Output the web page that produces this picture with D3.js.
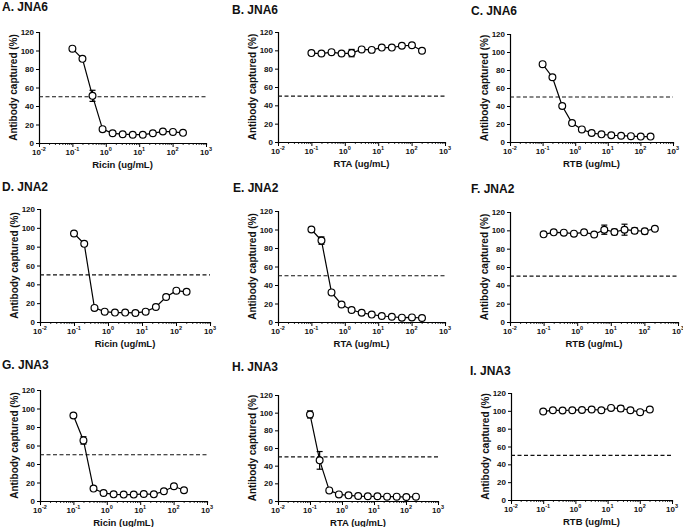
<!DOCTYPE html>
<html><head><meta charset="utf-8">
<script src="https://cdn.jsdelivr.net/npm/d3@7"></script>
<style>body{margin:0;background:#fff}svg{display:block}text{font-family:"Liberation Sans",Arial,sans-serif;font-weight:bold;fill:#111}</style>
</head><body><svg id="c" width="683" height="527"></svg>
<script>
// Concentrations (ug/mL), two-fold dilutions
const conc = [0.1,0.2,0.4,0.8,1.6,3.2,6.4,12.8,25.6,51.2,102.4,204.8];
const yTicks = [0,20,40,60,80,100,120];
const xTickExps = [-2,-1,0,1,2,3];
const titles = ["A. JNA6","B. JNA6","C. JNA6","D. JNA2","E. JNA2","F. JNA2","G. JNA3","H. JNA3","I. JNA3"];
const xLabels = ["Ricin (ug/mL)","RTA (ug/mL)","RTB (ug/mL)","Ricin (ug/mL)","RTA (ug/mL)","RTB (ug/mL)","Ricin (ug/mL)","RTA (ug/mL)","RTB (ug/mL)"];
const yLabel = "Antibody captured (%)";
const threshold = 50;
// Antibody captured (%) per panel
const valA = [102,91,51,15,10.5,9.5,9,9,10.5,12.5,12,11];
const valB = [97,96.5,98,96.5,97,101,100.5,103,103,105,105.5,99.5];
const valC = [86.5,72,40,21,14,10,8.5,7.5,7,6.5,6,6];
const valD = [94,83,15,11,10,10,9.6,11,16,26.5,33.3,32];
const valE = [100,88,32,19,13,10,8,6.5,5.7,4.7,5,4.3];
const valF = [95.6,97.8,97.5,96.4,97.8,95.5,100.7,98.2,100.7,99.6,99,101.8];
const valG = [92.5,65.5,13.4,8.7,7.2,6.9,6.9,7.6,7.2,10.5,15.9,11.6];
const valH = [98,46,12,7.5,6.4,5.6,5.3,5.3,4.9,4.9,4.5,4.9];
const valI = [99.2,100.7,100.4,100.7,101,101.5,100.7,103.3,102.6,100.7,98.5,101.5];
// error bars (SD)
const errA = [0,0,6,0,0,0,0,0,0,0,0,0];
const errB = [0,0,0,0,4,0,0,0,0,0,0,0];
const errC = [0,0,0,0,0,0,0,0,0,0,0,0];
const errD = [0,0,0,0,0,0,0,0,0,0,0,0];
const errE = [0,4,0,0,0,0,0,0,0,0,0,0];
const errF = [0,0,0,0,0,0,5,3,6,3,3,0];
const errG = [0,4,0,0,0,0,0,0,0,2,0,0];
const errH = [4,10,0,0,0,0,0,0,0,0,0,0];
const errI = [0,0,0,0,0,0,0,0,3,0,0,0];
const values = [valA,valB,valC,valD,valE,valF,valG,valH,valI];
const errors = [errA,errB,errC,errD,errE,errF,errG,errH,errI];

// layout: plot box per panel [left, right, top(120), bottom(0)], title position
const layout = [
  {l:39,r:206,t:32,b:143,tx:2,ty:11},
  {l:278,r:445,t:32,b:142,tx:232,ty:14},
  {l:510,r:673,t:34,b:142,tx:471,ty:15},
  {l:40,r:210,t:209,b:322,tx:2,ty:191},
  {l:278,r:445,t:211,b:322,tx:233,ty:192},
  {l:510,r:678,t:212,b:322,tx:471,ty:193},
  {l:40,r:207,t:390,b:501,tx:2,ty:369},
  {l:278,r:438,t:395,b:501,tx:232,ty:371},
  {l:511,r:672,t:393,b:500,tx:470,ty:375}
];

const svg = d3.select("#c");
layout.forEach((L,i)=>{
  const g = svg.append("g");
  const x = d3.scaleLog().domain([1e-2,1e3]).range([L.l,L.r]);
  const y = d3.scaleLinear().domain([0,120]).range([L.b,L.t]);
  // title
  g.append("text").attr("x",L.tx).attr("y",L.ty).attr("font-size",12).text(titles[i]);
  // y axis
  const ya = g.append("g").attr("transform",`translate(${L.l},0)`)
    .call(d3.axisLeft(y).tickValues(yTicks).tickSize(3).tickPadding(2));
  ya.select(".domain").attr("stroke","#000").attr("stroke-width",1.2);
  ya.selectAll(".tick line").attr("stroke","#000").attr("stroke-width",1);
  ya.selectAll(".tick text").attr("font-size",8).attr("font-family",'"Liberation Sans",Arial,sans-serif').attr("font-weight","bold").attr("fill","#111");
  // x axis minor ticks
  const minor = [];
  for(let e=-2;e<3;e++) for(let k=2;k<=9;k++) minor.push(k*Math.pow(10,e));
  const xa = g.append("g").attr("transform",`translate(0,${L.b})`)
    .call(d3.axisBottom(x).tickValues(minor).tickSize(2).tickFormat(""));
  xa.select(".domain").attr("stroke","#000").attr("stroke-width",1.2);
  xa.selectAll(".tick line").attr("stroke","#000").attr("stroke-width",0.8);
  const xm = g.append("g").attr("transform",`translate(0,${L.b})`)
    .call(d3.axisBottom(x).tickValues(xTickExps.map(e=>Math.pow(10,e))).tickSize(4).tickFormat(""));
  xm.select(".domain").remove();
  xm.selectAll(".tick line").attr("stroke","#000").attr("stroke-width",1);
  // x tick labels with superscript
  xTickExps.forEach(e=>{
    const t = g.append("text").attr("x",x(Math.pow(10,e))).attr("y",L.b+11.5).attr("text-anchor","middle").attr("font-size",8);
    t.append("tspan").text("10");
    t.append("tspan").attr("dy",-3.5).attr("font-size",5.5).text(e);
  });
  // axis labels
  g.append("text").attr("x",(L.l+L.r)/2).attr("y",L.b+24.5).attr("text-anchor","middle").attr("font-size",9.5).text(xLabels[i]);
  g.append("text").attr("transform",`translate(${L.l-22},${(L.t+L.b)/2}) rotate(-90)`).attr("text-anchor","middle").attr("font-size",10).text(yLabel);
  // threshold dashed line
  g.append("line").attr("x1",L.l).attr("x2",L.r).attr("y1",y(threshold)).attr("y2",y(threshold))
    .attr("stroke","#111").attr("stroke-width",1.1).attr("stroke-dasharray","4,2.5");
  const pts = conc.map((c,j)=>({c,v:values[i][j],e:errors[i][j]}));
  // line
  g.append("path").datum(pts).attr("fill","none").attr("stroke","#000").attr("stroke-width",1.2)
    .attr("d",d3.line().x(d=>x(d.c)).y(d=>y(d.v)));
  // error bars
  const eb = g.selectAll(".eb").data(pts.filter(d=>d.e>0)).enter().append("g");
  eb.append("line").attr("x1",d=>x(d.c)).attr("x2",d=>x(d.c)).attr("y1",d=>y(d.v-d.e)).attr("y2",d=>y(d.v+d.e)).attr("stroke","#000").attr("stroke-width",1.2);
  [-1,1].forEach(s=>{
    eb.append("line").attr("x1",d=>x(d.c)-3).attr("x2",d=>x(d.c)+3).attr("y1",d=>y(d.v+s*d.e)).attr("y2",d=>y(d.v+s*d.e)).attr("stroke","#000").attr("stroke-width",1.2);
  });
  // markers
  g.selectAll(".pt").data(pts).enter().append("circle").attr("cx",d=>x(d.c)).attr("cy",d=>y(d.v)).attr("r",3.4)
    .attr("fill","#fff").attr("stroke","#000").attr("stroke-width",1.2);
});
</script></body></html>
